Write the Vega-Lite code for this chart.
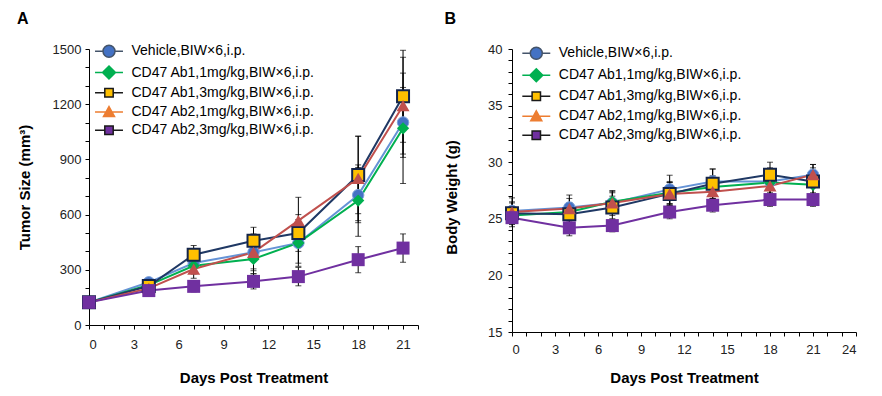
{
  "$schema": "https://vega.github.io/schema/vega-lite/v6.json",
  "padding": {"left": 17, "top": 11, "right": 5, "bottom": 5},
  "background": "white",
  "datasets": {
    "tumor": [
      {"g": "Vehicle,BIW×6,i.p.", "day": 0, "mean": 123, "err": 8},
      {"g": "Vehicle,BIW×6,i.p.", "day": 4, "mean": 232, "err": 20},
      {"g": "Vehicle,BIW×6,i.p.", "day": 7, "mean": 337, "err": 40},
      {"g": "Vehicle,BIW×6,i.p.", "day": 11, "mean": 395, "err": 90},
      {"g": "Vehicle,BIW×6,i.p.", "day": 14, "mean": 446, "err": 110},
      {"g": "Vehicle,BIW×6,i.p.", "day": 18, "mean": 706, "err": 150},
      {"g": "Vehicle,BIW×6,i.p.", "day": 21, "mean": 1101, "err": 190},
      {"g": "CD47 Ab1,1mg/kg,BIW×6,i.p.", "day": 0, "mean": 123, "err": 8},
      {"g": "CD47 Ab1,1mg/kg,BIW×6,i.p.", "day": 4, "mean": 217, "err": 20},
      {"g": "CD47 Ab1,1mg/kg,BIW×6,i.p.", "day": 7, "mean": 322, "err": 45},
      {"g": "CD47 Ab1,1mg/kg,BIW×6,i.p.", "day": 11, "mean": 359, "err": 80},
      {"g": "CD47 Ab1,1mg/kg,BIW×6,i.p.", "day": 14, "mean": 446, "err": 127},
      {"g": "CD47 Ab1,1mg/kg,BIW×6,i.p.", "day": 18, "mean": 676, "err": 194},
      {"g": "CD47 Ab1,1mg/kg,BIW×6,i.p.", "day": 21, "mean": 1069, "err": 300},
      {"g": "CD47 Ab1,3mg/kg,BIW×6,i.p.", "day": 0, "mean": 123, "err": 8},
      {"g": "CD47 Ab1,3mg/kg,BIW×6,i.p.", "day": 4, "mean": 212, "err": 18},
      {"g": "CD47 Ab1,3mg/kg,BIW×6,i.p.", "day": 7, "mean": 382, "err": 50},
      {"g": "CD47 Ab1,3mg/kg,BIW×6,i.p.", "day": 11, "mean": 458, "err": 73},
      {"g": "CD47 Ab1,3mg/kg,BIW×6,i.p.", "day": 14, "mean": 500, "err": 100},
      {"g": "CD47 Ab1,3mg/kg,BIW×6,i.p.", "day": 18, "mean": 815, "err": 210},
      {"g": "CD47 Ab1,3mg/kg,BIW×6,i.p.", "day": 21, "mean": 1243, "err": 250},
      {"g": "CD47 Ab2,1mg/kg,BIW×6,i.p.", "day": 0, "mean": 123, "err": 8},
      {"g": "CD47 Ab2,1mg/kg,BIW×6,i.p.", "day": 4, "mean": 199, "err": 18},
      {"g": "CD47 Ab2,1mg/kg,BIW×6,i.p.", "day": 7, "mean": 304, "err": 50},
      {"g": "CD47 Ab2,1mg/kg,BIW×6,i.p.", "day": 11, "mean": 395, "err": 100},
      {"g": "CD47 Ab2,1mg/kg,BIW×6,i.p.", "day": 14, "mean": 567, "err": 127},
      {"g": "CD47 Ab2,1mg/kg,BIW×6,i.p.", "day": 18, "mean": 797, "err": 230},
      {"g": "CD47 Ab2,1mg/kg,BIW×6,i.p.", "day": 21, "mean": 1192, "err": 263},
      {"g": "CD47 Ab2,3mg/kg,BIW×6,i.p.", "day": 0, "mean": 123, "err": 8},
      {"g": "CD47 Ab2,3mg/kg,BIW×6,i.p.", "day": 4, "mean": 187, "err": 15},
      {"g": "CD47 Ab2,3mg/kg,BIW×6,i.p.", "day": 7, "mean": 210, "err": 30},
      {"g": "CD47 Ab2,3mg/kg,BIW×6,i.p.", "day": 11, "mean": 237, "err": 41},
      {"g": "CD47 Ab2,3mg/kg,BIW×6,i.p.", "day": 14, "mean": 263, "err": 50},
      {"g": "CD47 Ab2,3mg/kg,BIW×6,i.p.", "day": 18, "mean": 355, "err": 71},
      {"g": "CD47 Ab2,3mg/kg,BIW×6,i.p.", "day": 21, "mean": 418, "err": 77}
    ],
    "weight": [
      {"g": "Vehicle,BIW×6,i.p.", "day": 0, "mean": 25.7, "err": 1.15},
      {"g": "Vehicle,BIW×6,i.p.", "day": 4, "mean": 26.0, "err": 1.1},
      {"g": "Vehicle,BIW×6,i.p.", "day": 7, "mean": 26.4, "err": 1.1},
      {"g": "Vehicle,BIW×6,i.p.", "day": 11, "mean": 27.6, "err": 1.25},
      {"g": "Vehicle,BIW×6,i.p.", "day": 14, "mean": 28.3, "err": 1.1},
      {"g": "Vehicle,BIW×6,i.p.", "day": 18, "mean": 28.3, "err": 1.2},
      {"g": "Vehicle,BIW×6,i.p.", "day": 21, "mean": 28.9, "err": 0.9},
      {"g": "CD47 Ab1,1mg/kg,BIW×6,i.p.", "day": 0, "mean": 25.3, "err": 0.8},
      {"g": "CD47 Ab1,1mg/kg,BIW×6,i.p.", "day": 4, "mean": 25.6, "err": 0.8},
      {"g": "CD47 Ab1,1mg/kg,BIW×6,i.p.", "day": 7, "mean": 26.5, "err": 0.9},
      {"g": "CD47 Ab1,1mg/kg,BIW×6,i.p.", "day": 11, "mean": 27.3, "err": 1.0},
      {"g": "CD47 Ab1,1mg/kg,BIW×6,i.p.", "day": 14, "mean": 27.8, "err": 1.0},
      {"g": "CD47 Ab1,1mg/kg,BIW×6,i.p.", "day": 18, "mean": 28.2, "err": 1.0},
      {"g": "CD47 Ab1,1mg/kg,BIW×6,i.p.", "day": 21, "mean": 28.0, "err": 1.0},
      {"g": "CD47 Ab1,3mg/kg,BIW×6,i.p.", "day": 0, "mean": 25.5, "err": 0.9},
      {"g": "CD47 Ab1,3mg/kg,BIW×6,i.p.", "day": 4, "mean": 25.4, "err": 1.0},
      {"g": "CD47 Ab1,3mg/kg,BIW×6,i.p.", "day": 7, "mean": 26.0, "err": 1.0},
      {"g": "CD47 Ab1,3mg/kg,BIW×6,i.p.", "day": 11, "mean": 27.2, "err": 1.0},
      {"g": "CD47 Ab1,3mg/kg,BIW×6,i.p.", "day": 14, "mean": 28.1, "err": 1.3},
      {"g": "CD47 Ab1,3mg/kg,BIW×6,i.p.", "day": 18, "mean": 28.9, "err": 1.1},
      {"g": "CD47 Ab1,3mg/kg,BIW×6,i.p.", "day": 21, "mean": 28.3, "err": 1.2},
      {"g": "CD47 Ab2,1mg/kg,BIW×6,i.p.", "day": 0, "mean": 25.6, "err": 0.9},
      {"g": "CD47 Ab2,1mg/kg,BIW×6,i.p.", "day": 4, "mean": 25.9, "err": 0.9},
      {"g": "CD47 Ab2,1mg/kg,BIW×6,i.p.", "day": 7, "mean": 26.4, "err": 0.9},
      {"g": "CD47 Ab2,1mg/kg,BIW×6,i.p.", "day": 11, "mean": 27.2, "err": 1.0},
      {"g": "CD47 Ab2,1mg/kg,BIW×6,i.p.", "day": 14, "mean": 27.4, "err": 1.0},
      {"g": "CD47 Ab2,1mg/kg,BIW×6,i.p.", "day": 18, "mean": 27.9, "err": 1.0},
      {"g": "CD47 Ab2,1mg/kg,BIW×6,i.p.", "day": 21, "mean": 28.9, "err": 0.9},
      {"g": "CD47 Ab2,3mg/kg,BIW×6,i.p.", "day": 0, "mean": 25.1, "err": 0.8},
      {"g": "CD47 Ab2,3mg/kg,BIW×6,i.p.", "day": 4, "mean": 24.2, "err": 0.7},
      {"g": "CD47 Ab2,3mg/kg,BIW×6,i.p.", "day": 7, "mean": 24.4, "err": 0.55},
      {"g": "CD47 Ab2,3mg/kg,BIW×6,i.p.", "day": 11, "mean": 25.6, "err": 0.6},
      {"g": "CD47 Ab2,3mg/kg,BIW×6,i.p.", "day": 14, "mean": 26.2, "err": 0.6},
      {"g": "CD47 Ab2,3mg/kg,BIW×6,i.p.", "day": 18, "mean": 26.7, "err": 0.6},
      {"g": "CD47 Ab2,3mg/kg,BIW×6,i.p.", "day": 21, "mean": 26.7, "err": 0.6}
    ]
  },
  "hconcat": [
    {
      "title": {"text": "A", "offset": 16},
      "width": 329,
      "height": 276,
      "data": {"name": "tumor"},
      "encoding": {
        "x": {"field": "day", "type": "quantitative",
          "scale": {"domain": [0, 22], "nice": false, "zero": false},
          "axis": {"title": "Days Post Treatment", "values": [0,1,2,3,4,5,6,7,8,9,10,11,12,13,14,15,16,17,18,19,20,21,22],
            "labelExpr": "datum.value % 3 == 0 ? datum.label : ''", "labelPadding": 9, "titlePadding": 19}},
        "y": {"field": "mean", "type": "quantitative",
          "scale": {"domain": [0, 1500], "nice": false},
          "axis": {"title": "Tumor Size (mm³)", "values": [0,100,200,300,400,500,600,700,800,900,1000,1100,1200,1300,1400,1500],
            "labelExpr": "datum.value % 300 == 0 ? datum.label : ''", "format": "d", "labelPadding": 4, "titlePadding": 20}}
      },
      "layer": [
        {"mark": {"type": "errorbar", "ticks": {"size": 6}, "color": "#000", "thickness": 1},
         "encoding": {"yError": {"field": "err"}}},
        {"mark": {"type": "line", "strokeWidth": 2},
         "encoding": {"color": {"field": "g", "type": "nominal", "legend": null,
           "scale": {"domain": ["CD47 Ab1,1mg/kg,BIW×6,i.p.", "CD47 Ab1,3mg/kg,BIW×6,i.p.", "CD47 Ab2,1mg/kg,BIW×6,i.p.", "CD47 Ab2,3mg/kg,BIW×6,i.p.", "Vehicle,BIW×6,i.p."],
             "range": ["#00B050", "#1F3864", "#C0504D", "#7030A0", "#6593d6"]}}}},
        {"transform": [{"filter": {"field": "g", "equal": "Vehicle,BIW×6,i.p."}}],
         "mark": {"type": "point", "shape": "circle", "filled": true, "size": 130, "opacity": 1, "fill": "#4472C4", "stroke": "#7da2dc", "strokeWidth": 1}},
        {"transform": [{"filter": {"field": "g", "equal": "CD47 Ab1,1mg/kg,BIW×6,i.p."}}],
         "mark": {"type": "point", "shape": "diamond", "filled": true, "size": 150, "opacity": 1, "fill": "#00B050"}},
        {"transform": [{"filter": {"field": "g", "equal": "CD47 Ab1,3mg/kg,BIW×6,i.p."}}],
         "mark": {"type": "point", "shape": "square", "filled": true, "size": 144, "opacity": 1, "fill": "#FFC000", "stroke": "#14244A", "strokeWidth": 2}},
        {"transform": [{"filter": {"field": "g", "equal": "CD47 Ab2,1mg/kg,BIW×6,i.p."}}],
         "mark": {"type": "point", "shape": "triangle-up", "filled": true, "size": 169, "opacity": 1, "fill": "#C0504D"}},
        {"transform": [{"filter": {"field": "g", "equal": "CD47 Ab2,3mg/kg,BIW×6,i.p."}}],
         "mark": {"type": "point", "shape": "square", "filled": true, "size": 169, "opacity": 1, "fill": "#7030A0"}},
        {"transform": [{"filter": "datum.day < 0"}],
         "mark": {"type": "point", "filled": true, "size": 144, "opacity": 1},
         "encoding": {
           "fill": {"field": "g", "type": "nominal",
             "scale": {"domain": ["Vehicle,BIW×6,i.p.", "CD47 Ab1,1mg/kg,BIW×6,i.p.", "CD47 Ab1,3mg/kg,BIW×6,i.p.", "CD47 Ab2,1mg/kg,BIW×6,i.p.", "CD47 Ab2,3mg/kg,BIW×6,i.p."],
               "range": ["#4472C4", "#00B050", "#FFC000", "#ED7D31", "#7030A0"]},
             "legend": {"title": null, "orient": "none", "legendX": 13, "legendY": -4.7, "rowPadding": 2.25}},
           "stroke": {"field": "g", "type": "nominal",
             "scale": {"domain": ["Vehicle,BIW×6,i.p.", "CD47 Ab1,1mg/kg,BIW×6,i.p.", "CD47 Ab1,3mg/kg,BIW×6,i.p.", "CD47 Ab2,1mg/kg,BIW×6,i.p.", "CD47 Ab2,3mg/kg,BIW×6,i.p."],
               "range": ["#44546A", "#00B050", "#1a1a1a", "#ED7D31", "#1a1a1a"]},
             "legend": {"title": null, "orient": "none", "legendX": 13, "legendY": -4.7, "rowPadding": 2.25}},
           "shape": {"field": "g", "type": "nominal",
             "scale": {"domain": ["Vehicle,BIW×6,i.p.", "CD47 Ab1,1mg/kg,BIW×6,i.p.", "CD47 Ab1,3mg/kg,BIW×6,i.p.", "CD47 Ab2,1mg/kg,BIW×6,i.p.", "CD47 Ab2,3mg/kg,BIW×6,i.p."],
               "range": [
                 "M-2.33,0H-1M1,0H2.33M-1,0A1 1 0 1 1 1,0A1 1 0 1 1 -1,0Z",
                 "M-2.33,0H-1.08M1.08,0H2.33M0,-1.08L1.08,0L0,1.08L-1.08,0Z",
                 "M-2.33,0H-0.7M0.7,0H2.33M-0.7,-0.7H0.7V0.7H-0.7Z",
                 "M-2.33,0H-0.5M0.5,0H2.33M0,-0.92L0.92,0.75H-0.92Z",
                 "M-2.33,0H-0.7M0.7,0H2.33M-0.7,-0.7H0.7V0.7H-0.7Z"
               ]},
             "legend": {"title": null, "orient": "none", "legendX": 13, "legendY": -4.7, "rowPadding": 2.25}}
         }}
      ]
    },
    {
      "title": {"text": "B", "offset": 16},
      "width": 344,
      "height": 283,
      "data": {"name": "weight"},
      "encoding": {
        "x": {"field": "day", "type": "quantitative",
          "scale": {"domain": [0, 24], "nice": false, "zero": false},
          "axis": {"title": "Days Post Treatment", "values": [0,1,2,3,4,5,6,7,8,9,10,11,12,13,14,15,16,17,18,19,20,21,22,23,24],
            "labelExpr": "datum.value % 3 == 0 ? datum.label : ''", "labelPadding": 7, "titlePadding": 14}},
        "y": {"field": "mean", "type": "quantitative",
          "scale": {"domain": [15, 40], "nice": false, "zero": false},
          "axis": {"title": "Body Weight (g)", "values": [15,16,17,18,19,20,21,22,23,24,25,26,27,28,29,30,31,32,33,34,35,36,37,38,39,40],
            "labelExpr": "datum.value % 5 == 0 ? datum.label : ''", "labelPadding": 6, "titlePadding": 28, "titleY": 148}}
      },
      "layer": [
        {"mark": {"type": "errorbar", "ticks": {"size": 6}, "color": "#000", "thickness": 1},
         "encoding": {"yError": {"field": "err"}}},
        {"mark": {"type": "line", "strokeWidth": 2},
         "encoding": {"color": {"field": "g", "type": "nominal", "legend": null,
           "scale": {"domain": ["CD47 Ab1,1mg/kg,BIW×6,i.p.", "CD47 Ab1,3mg/kg,BIW×6,i.p.", "CD47 Ab2,1mg/kg,BIW×6,i.p.", "CD47 Ab2,3mg/kg,BIW×6,i.p.", "Vehicle,BIW×6,i.p."],
             "range": ["#00B050", "#1F3864", "#C0504D", "#7030A0", "#6593d6"]}}}},
        {"transform": [{"filter": {"field": "g", "equal": "Vehicle,BIW×6,i.p."}}],
         "mark": {"type": "point", "shape": "circle", "filled": true, "size": 130, "opacity": 1, "fill": "#4472C4", "stroke": "#7da2dc", "strokeWidth": 1}},
        {"transform": [{"filter": {"field": "g", "equal": "CD47 Ab1,1mg/kg,BIW×6,i.p."}}],
         "mark": {"type": "point", "shape": "diamond", "filled": true, "size": 150, "opacity": 1, "fill": "#00B050"}},
        {"transform": [{"filter": {"field": "g", "equal": "CD47 Ab1,3mg/kg,BIW×6,i.p."}}],
         "mark": {"type": "point", "shape": "square", "filled": true, "size": 144, "opacity": 1, "fill": "#FFC000", "stroke": "#14244A", "strokeWidth": 2}},
        {"transform": [{"filter": {"field": "g", "equal": "CD47 Ab2,1mg/kg,BIW×6,i.p."}}],
         "mark": {"type": "point", "shape": "triangle-up", "filled": true, "size": 169, "opacity": 1, "fill": "#C0504D"}},
        {"transform": [{"filter": {"field": "g", "equal": "CD47 Ab2,3mg/kg,BIW×6,i.p."}}],
         "mark": {"type": "point", "shape": "square", "filled": true, "size": 169, "opacity": 1, "fill": "#7030A0"}},
        {"transform": [{"filter": "datum.day < 0"}],
         "mark": {"type": "point", "filled": true, "size": 144, "opacity": 1},
         "encoding": {
           "fill": {"field": "g", "type": "nominal",
             "scale": {"domain": ["Vehicle,BIW×6,i.p.", "CD47 Ab1,1mg/kg,BIW×6,i.p.", "CD47 Ab1,3mg/kg,BIW×6,i.p.", "CD47 Ab2,1mg/kg,BIW×6,i.p.", "CD47 Ab2,3mg/kg,BIW×6,i.p."],
               "range": ["#4472C4", "#00B050", "#FFC000", "#ED7D31", "#7030A0"]},
             "legend": {"title": null, "orient": "none", "legendX": 17.3, "legendY": -2.7, "rowPadding": 3}},
           "stroke": {"field": "g", "type": "nominal",
             "scale": {"domain": ["Vehicle,BIW×6,i.p.", "CD47 Ab1,1mg/kg,BIW×6,i.p.", "CD47 Ab1,3mg/kg,BIW×6,i.p.", "CD47 Ab2,1mg/kg,BIW×6,i.p.", "CD47 Ab2,3mg/kg,BIW×6,i.p."],
               "range": ["#44546A", "#00B050", "#1a1a1a", "#ED7D31", "#1a1a1a"]},
             "legend": {"title": null, "orient": "none", "legendX": 17.3, "legendY": -2.7, "rowPadding": 3}},
           "shape": {"field": "g", "type": "nominal",
             "scale": {"domain": ["Vehicle,BIW×6,i.p.", "CD47 Ab1,1mg/kg,BIW×6,i.p.", "CD47 Ab1,3mg/kg,BIW×6,i.p.", "CD47 Ab2,1mg/kg,BIW×6,i.p.", "CD47 Ab2,3mg/kg,BIW×6,i.p."],
               "range": [
                 "M-2.33,0H-1M1,0H2.33M-1,0A1 1 0 1 1 1,0A1 1 0 1 1 -1,0Z",
                 "M-2.33,0H-1.08M1.08,0H2.33M0,-1.08L1.08,0L0,1.08L-1.08,0Z",
                 "M-2.33,0H-0.7M0.7,0H2.33M-0.7,-0.7H0.7V0.7H-0.7Z",
                 "M-2.33,0H-0.5M0.5,0H2.33M0,-0.92L0.92,0.75H-0.92Z",
                 "M-2.33,0H-0.7M0.7,0H2.33M-0.7,-0.7H0.7V0.7H-0.7Z"
               ]},
             "legend": {"title": null, "orient": "none", "legendX": 17.3, "legendY": -2.7, "rowPadding": 3}}
         }}
      ]
    }
  ],
  "spacing": 25,
  "resolve": {
    "scale": {"color": "independent", "fill": "independent", "stroke": "independent", "shape": "independent"}
  },
  "config": {
    "view": {"stroke": null},
    "font": "Liberation Sans",
    "title": {"font": "Liberation Sans", "fontSize": 16, "fontWeight": "bold", "anchor": "start", "color": "#000"},
    "axis": {
      "grid": false, "domainColor": "#000", "tickColor": "#000", "tickSize": 4,
      "labelFont": "Liberation Sans", "labelFontSize": 13, "labelColor": "#222",
      "titleFont": "Liberation Sans", "titleFontSize": 15, "titleFontWeight": "bold", "titleColor": "#000"
    },
    "legend": {
      "padding": 0, "labelFont": "Liberation Sans", "labelFontSize": 14, "labelColor": "#000",
      "symbolSize": 144, "symbolStrokeWidth": 1.5, "labelOffset": 15.5, "labelLimit": 400, "symbolOpacity": 1
    }
  }
}
